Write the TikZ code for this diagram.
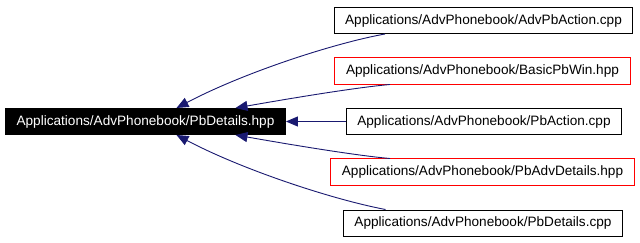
\documentclass[tikz,border=0pt]{standalone}
\usepackage{fontspec}
\setmainfont{Liberation Sans}
\usetikzlibrary{arrows.meta}
\definecolor{edgeblue}{HTML}{191970}
\definecolor{refred}{HTML}{FF0000}

\tikzset{
  file/.style={draw, line width=1pt, fill=white, inner xsep=11pt, inner ysep=0pt,
    minimum height=26pt, font=\fontsize{13.6}{15}\selectfont},
  fileref/.style={file, draw=none},
  refframe/.style={draw=refred, line width=1pt},
  current/.style={file, fill=black, text=white},
  dep/.style={draw=edgeblue, line width=0.9pt,
    {Triangle[length=12pt,width=10pt]}-}
}

\begin{document}
\begin{tikzpicture}[x=1pt,y=-1pt]
\useasboundingbox (0,0) rectangle (640,243);

\node[current] (pbdetails) at (145.5,121.5) {Applications/AdvPhonebook/PbDetails.hpp};

\node[file]    (advpbaction)  at (483.5,20.5) {Applications/AdvPhonebook/AdvPbAction.cpp};
\node[fileref] (basicpbwin)   at (482.5,71)   {Applications/AdvPhonebook/BasicPbWin.hpp};
\node[file]    (pbaction)     at (484,121.5)  {Applications/AdvPhonebook/PbAction.cpp};
\node[fileref] (pbadvdetails) at (482.5,172)  {Applications/AdvPhonebook/PbAdvDetails.hpp};
\node[file]    (pbdetailscpp) at (483,223)    {Applications/AdvPhonebook/PbDetails.cpp};

% red frames for the headers
\draw[refframe] (basicpbwin.north west) rectangle (basicpbwin.south east);
\draw[refframe] (pbadvdetails.north west) rectangle (pbadvdetails.south east);

% everything that includes PbDetails.hpp
\draw[dep] ([xshift=31pt]pbdetails.north) .. controls (245,72) and (335,43) .. ([xshift=-98.5pt]advpbaction.south);
\draw[dep] ([xshift=90pt]pbdetails.north) .. controls (270,102) and (350,88) .. ([xshift=-92.5pt]basicpbwin.south);
\draw[dep] (pbdetails.east) -- (pbaction.west);
\draw[dep] ([xshift=90pt]pbdetails.south) .. controls (270,141) and (350,155) .. ([xshift=-92.5pt]pbadvdetails.north);
\draw[dep] ([xshift=31pt]pbdetails.south) .. controls (245,171) and (335,200) .. ([xshift=-97.5pt]pbdetailscpp.north);
\end{tikzpicture}
\end{document}
